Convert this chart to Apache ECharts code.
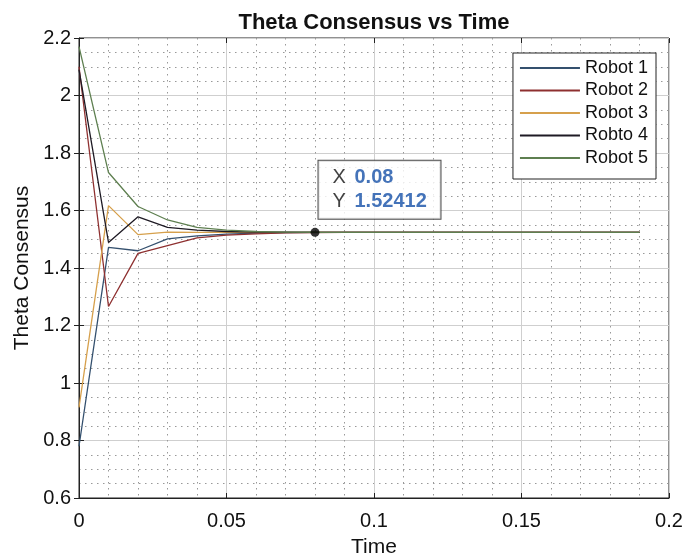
<!DOCTYPE html>
<html>
<head>
<meta charset="utf-8">
<script src="https://cdn.jsdelivr.net/npm/echarts@6/dist/echarts.min.js"></script>
<style>html,body{margin:0;padding:0;background:#fff}#c{width:689px;height:557px}</style>
</head>
<body>
<div id="c"></div>
<script>
var times = [0, 0.01, 0.02, 0.03, 0.04, 0.05, 0.06, 0.07, 0.08, 0.09, 0.10, 0.11, 0.12, 0.13, 0.14, 0.15, 0.16, 0.17, 0.18, 0.19];
var seriesNames = ['Robot 1', 'Robot 2', 'Robot 3', 'Robto 4', 'Robot 5'];
var robot1 = [0.78, 1.472, 1.460, 1.501, 1.512, 1.518, 1.521, 1.523, 1.524, 1.52412, 1.52412, 1.52412, 1.52412, 1.52412, 1.52412, 1.52412, 1.52412, 1.52412, 1.52412, 1.52412];
var robot2 = [2.10, 1.266, 1.451, 1.478, 1.505, 1.514, 1.519, 1.522, 1.5235, 1.52412, 1.52412, 1.52412, 1.52412, 1.52412, 1.52412, 1.52412, 1.52412, 1.52412, 1.52412, 1.52412];
var robot3 = [0.915, 1.617, 1.516, 1.525, 1.524, 1.5242, 1.5241, 1.52412, 1.52412, 1.52412, 1.52412, 1.52412, 1.52412, 1.52412, 1.52412, 1.52412, 1.52412, 1.52412, 1.52412, 1.52412];
var robot4 = [2.09, 1.489, 1.578, 1.541, 1.532, 1.527, 1.525, 1.5245, 1.5242, 1.52412, 1.52412, 1.52412, 1.52412, 1.52412, 1.52412, 1.52412, 1.52412, 1.52412, 1.52412, 1.52412];
var robot5 = [2.17, 1.732, 1.614, 1.567, 1.541, 1.532, 1.527, 1.525, 1.5243, 1.52412, 1.52412, 1.52412, 1.52412, 1.52412, 1.52412, 1.52412, 1.52412, 1.52412, 1.52412, 1.52412];
var colors = ['#34506e', '#8e3030', '#d6a04c', '#1e1a24', '#5e7f50'];
var tipX = 0.08;
var tipY = 1.52412;

var allData = [robot1, robot2, robot3, robot4, robot5];
var FONT = 'Liberation Sans, Arial, sans-serif';

var series = allData.map(function (vals, i) {
  return {
    name: seriesNames[i],
    type: 'line',
    symbol: 'none',
    data: times.map(function (t, j) { return [t, vals[j]]; }),
    lineStyle: { color: colors[i], width: 1.3 },
    itemStyle: { color: colors[i] },
    z: 3
  };
});
series.push({
  name: 'tip',
  type: 'scatter',
  data: [[tipX, tipY]],
  symbolSize: 9,
  itemStyle: { color: '#000' },
  z: 10,
  label: {
    show: true,
    position: [8, -67],
    backgroundColor: '#fff',
    borderColor: '#222',
    borderWidth: 1,
    padding: [5, 12, 5, 14],
    width: 96,
    align: 'left',
    formatter: function (p) {
      return '{k|X}{v|' + p.value[0] + '}\n{k|Y}{v|' + p.value[1] + '}';
    },
    rich: {
      k: { fontFamily: FONT, fontSize: 20, color: '#111', width: 22, lineHeight: 24 },
      v: { fontFamily: FONT, fontSize: 20, fontWeight: 'bold', color: '#1550a8', lineHeight: 24 }
    }
  }
});

var chart = echarts.init(document.getElementById('c'));
chart.setOption({
  animation: false,
  backgroundColor: '#fff',
  title: {
    text: 'Theta Consensus vs Time',
    left: 369, top: 7, textAlign: 'center',
    textStyle: { fontFamily: FONT, fontSize: 22, fontWeight: 'bold', color: '#111' }
  },
  grid: { left: 79, right: 20, top: 38, bottom: 59, outerBoundsMode: 'none', containLabel: false, show: true, borderColor: '#222', borderWidth: 1, backgroundColor: 'transparent' },
  legend: {
    data: seriesNames,
    orient: 'vertical',
    right: 33, top: 53,
    icon: 'rect',
    itemWidth: 60, itemHeight: 2,
    itemGap: 4.5,
    padding: [6, 8, 12, 7],
    backgroundColor: '#fff',
    borderColor: '#222', borderWidth: 1,
    textStyle: { fontFamily: FONT, fontSize: 18, color: '#111', lineHeight: 18 }
  },
  xAxis: [{
    type: 'value', min: 0, max: 0.2, interval: 0.05,
    name: 'Time', nameLocation: 'middle', nameGap: 39,
    nameTextStyle: { fontFamily: FONT, fontSize: 21, color: '#111' },
    axisLine: { show: true, lineStyle: { color: '#222' } },
    axisTick: { show: true, inside: true, length: 5, lineStyle: { color: '#222' } },
    axisLabel: { fontFamily: FONT, fontSize: 20, color: '#111', margin: 13 },
    splitLine: { show: true, lineStyle: { color: '#cfcfcf', width: 1 } },
    minorTick: { show: false, splitNumber: 5 },
    minorSplitLine: { show: true, lineStyle: { color: '#999', type: [1.5, 4.5], width: 1 } }
  }, {
    type: 'value', min: 0, max: 0.2, interval: 0.05, position: 'top',
    axisLine: { show: false },
    axisTick: { show: true, inside: true, length: 5, lineStyle: { color: '#222' } },
    axisLabel: { show: false }, splitLine: { show: false }
  }],
  yAxis: [{
    type: 'value', min: 0.6, max: 2.2, interval: 0.2,
    name: 'Theta Consensus', nameLocation: 'middle', nameGap: 46,
    nameTextStyle: { fontFamily: FONT, fontSize: 21, color: '#111' },
    axisLine: { show: true, lineStyle: { color: '#222' } },
    axisTick: { show: true, inside: true, length: 5, lineStyle: { color: '#222' } },
    axisLabel: { fontFamily: FONT, fontSize: 20, color: '#111', margin: 8 },
    splitLine: { show: true, lineStyle: { color: '#cfcfcf', width: 1 } },
    minorTick: { show: false, splitNumber: 4 },
    minorSplitLine: { show: true, lineStyle: { color: '#999', type: [1.5, 4.5], width: 1 } }
  }, {
    type: 'value', min: 0.6, max: 2.2, interval: 0.2, position: 'right',
    axisLine: { show: false },
    axisTick: { show: true, inside: true, length: 5, lineStyle: { color: '#222' } },
    axisLabel: { show: false }, splitLine: { show: false }
  }],
  series: series
});
</script>
</body>
</html>
